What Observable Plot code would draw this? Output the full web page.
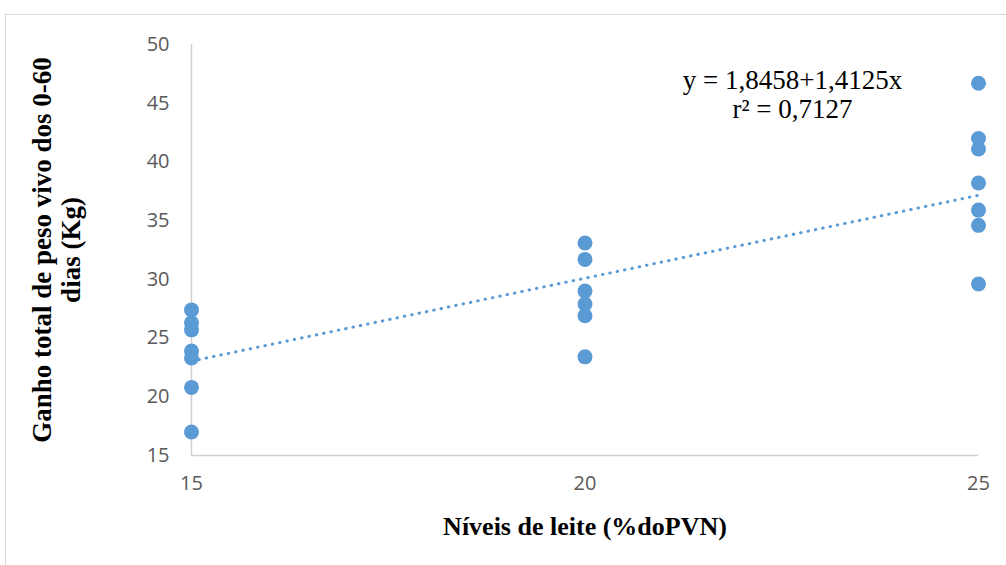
<!DOCTYPE html>
<html>
<head>
<meta charset="utf-8">
<script src="https://cdn.jsdelivr.net/npm/d3@7"></script>
<script src="https://cdn.jsdelivr.net/npm/@observablehq/plot@0.6"></script>
<style>
  html, body { margin: 0; padding: 0; background: #fff; width: 1006px; height: 565px; overflow: hidden; }
  #wrap { position: relative; width: 1006px; height: 565px; }
  #frame { position: absolute; left: 5px; top: 14px; width: 1020px; height: 580px; border: 1px solid #d9d9d9; box-sizing: border-box; }
  #chart { position: absolute; left: 0; top: 0; }
</style>
</head>
<body>
<div id="wrap"><div id="frame"></div><div id="chart"></div></div>
<script>
// Levels of milk (% of birth live weight)
const levels = [15, 20, 25];
// Total weight gain 0-60 days (kg), per level
const gains15 = [27.4, 26.3, 25.7, 23.9, 23.3, 20.8, 17.0];
const gains20 = [33.1, 31.7, 29.0, 27.9, 26.9, 23.4];
const gains25 = [46.7, 42.0, 41.1, 38.2, 35.9, 34.6, 29.6];
// Trend line coefficients (as printed)
const intercept = 1.8458;
const slope = 1.4125;
const equationText = "y = 1,8458+1,4125x\nr² = 0,7127";
const xTicks = [15, 20, 25];
const yTicks = [15, 20, 25, 30, 35, 40, 45, 50];
const yLabel = "Ganho total de peso vivo dos 0-60\ndias (Kg)";
const xLabel = "Níveis de leite (%doPVN)";

const points = [
  ...gains15.map(v => ({x: levels[0], y: v})),
  ...gains20.map(v => ({x: levels[1], y: v})),
  ...gains25.map(v => ({x: levels[2], y: v}))
];
const trend = [levels[0], levels[levels.length - 1]].map(x => ({x, y: intercept + slope * x}));

const blue = "#5b9bd5";
const serif = "'Liberation Serif', 'Times New Roman', serif";

const chart = Plot.plot({
  width: 1006,
  height: 565,
  marginLeft: 191,
  marginRight: 28,
  marginTop: 44,
  marginBottom: 110,
  style: {background: "transparent", fontFamily: "'Open Sans', sans-serif", fontSize: "20px", color: "#595959"},
  x: {domain: [15, 25], label: null},
  y: {domain: [15, 50], label: null},
  marks: [
    Plot.ruleX([15], {stroke: "#d0d0d0", strokeWidth: 1.5}),
    Plot.ruleY([15], {stroke: "#d0d0d0", strokeWidth: 1.5}),
    Plot.axisY({ticks: yTicks, tickSize: 0, tickPadding: 22, label: null, fontSize: 20, fill: "#595959"}),
    Plot.axisX({ticks: xTicks, tickSize: 0, tickPadding: 20, label: null, fontSize: 20, fill: "#595959"}),
    Plot.dot(points, {x: "x", y: "y", r: 7.5, fill: blue}),
    Plot.line(trend, {x: "x", y: "y", stroke: blue, strokeWidth: 3, strokeDasharray: "0.5 7", strokeLinecap: "round"}),
    Plot.text([equationText], {frameAnchor: "top-right", dx: -186, dy: 50, textAnchor: "middle", lineAnchor: "middle", lineHeight: 1.05, fontFamily: serif, fontSize: 27, fill: "#000"}),
    Plot.text([yLabel], {frameAnchor: "left", dx: -135, rotate: -90, textAnchor: "middle", lineAnchor: "middle", lineHeight: 1.05, fontFamily: serif, fontWeight: "bold", fontSize: 27, fill: "#000"}),
    Plot.text([xLabel], {frameAnchor: "bottom", dy: 71, textAnchor: "middle", lineAnchor: "middle", fontFamily: serif, fontWeight: "bold", fontSize: 26, fill: "#000"})
  ]
});
document.getElementById("chart").appendChild(chart);
</script>
</body>
</html>
